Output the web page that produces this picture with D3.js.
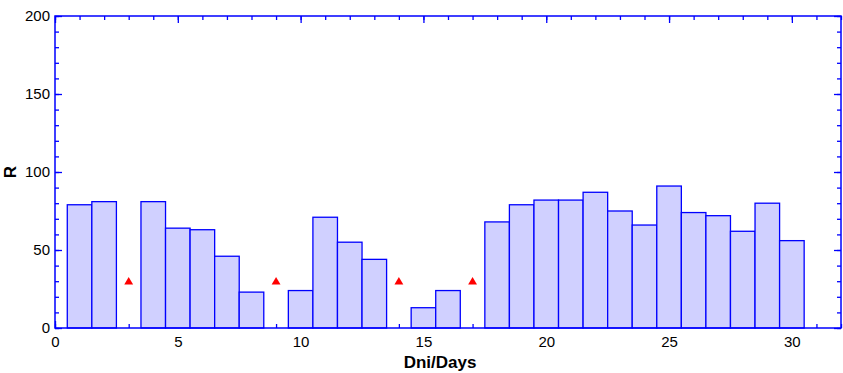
<!DOCTYPE html>
<html><head><meta charset="utf-8">
<script src="https://cdn.jsdelivr.net/npm/d3@7"></script>
<style>body{margin:0;background:#fff}svg{display:block}</style>
</head><body>
<svg id="c" width="843" height="373"></svg>
<script>
const days = [1,2,4,5,6,7,8,10,11,12,13,15,16,18,19,20,21,22,23,24,25,26,27,28,29,30];
const rValues = [79,81,81,64,63,46,23,24,71,55,44,13,24,68,79,82,82,87,75,66,91,74,72,62,80,56];
const missingDays = [3,9,14,17];
const missingLevel = [30,30,30,30];
const xMajorTicks = [0,5,10,15,20,25,30];
const yMajorTicks = [0,50,100,150,200];
const xLabel = "Dni/Days";
const yLabel = "R";

const W=843,H=373, L=55, R=841, T=16, B=328;
const blue="#0000ff";
const svg=d3.select("#c");
const x=d3.scaleLinear().domain([0,32]).range([L,R]);
const y=d3.scaleLinear().domain([0,200]).range([B,T]);
const font="'Liberation Sans', Arial, sans-serif";

function styleAxis(g){
  g.select(".domain").remove();
  g.selectAll("line").attr("stroke",blue).attr("stroke-width",1.3);
  g.selectAll("text").attr("font-family",font).attr("font-size",15).attr("fill","#000");
}
const xMinor=d3.range(0,33);
const yMinor=d3.range(0,201,10);
// minor ticks
svg.append("g").attr("transform",`translate(0,${B})`).call(d3.axisBottom(x).tickValues(xMinor).tickSize(-4).tickFormat("")).call(styleAxis);
svg.append("g").attr("transform",`translate(0,${T})`).call(d3.axisTop(x).tickValues(xMinor).tickSize(-4).tickFormat("")).call(styleAxis);
svg.append("g").attr("transform",`translate(${L},0)`).call(d3.axisLeft(y).tickValues(yMinor).tickSize(-4).tickFormat("")).call(styleAxis);
svg.append("g").attr("transform",`translate(${R},0)`).call(d3.axisRight(y).tickValues(yMinor).tickSize(-4).tickFormat("")).call(styleAxis);
// major ticks
svg.append("g").attr("transform",`translate(0,${B})`).call(d3.axisBottom(x).tickValues(xMajorTicks).tickSize(-7).tickPadding(8).tickFormat(d3.format("d"))).call(styleAxis);
svg.append("g").attr("transform",`translate(0,${T})`).call(d3.axisTop(x).tickValues(xMajorTicks).tickSize(-7).tickFormat("")).call(styleAxis);
svg.append("g").attr("transform",`translate(${L},0)`).call(d3.axisLeft(y).tickValues(yMajorTicks).tickSize(-7).tickPadding(5).tickFormat(d3.format("d"))).call(styleAxis);
svg.append("g").attr("transform",`translate(${R},0)`).call(d3.axisRight(y).tickValues(yMajorTicks).tickSize(-7).tickFormat("")).call(styleAxis);

// bars
svg.append("g").selectAll("rect").data(days).join("rect")
  .attr("x",(d)=>x(d-0.5)).attr("width",x(1)-x(0))
  .attr("y",(d,i)=>y(rValues[i])).attr("height",(d,i)=>y(0)-y(rValues[i]))
  .attr("fill","#d0d0ff").attr("stroke",blue).attr("stroke-width",1.3);

// missing markers
svg.append("g").selectAll("path").data(missingDays).join("path")
  .attr("d",d3.symbol(d3.symbolTriangle,34))
  .attr("transform",(d,i)=>`translate(${x(d)},${y(missingLevel[i])+0.8})`)
  .attr("fill","#ff0000");

// frame
svg.append("rect").attr("x",L).attr("y",T).attr("width",R-L).attr("height",B-T)
  .attr("fill","none").attr("stroke",blue).attr("stroke-width",1.5);

svg.append("text").attr("x",440).attr("y",368).attr("text-anchor","middle")
  .attr("font-family",font).attr("font-weight","bold").attr("font-size",17).text(xLabel);
svg.append("text").attr("transform",`translate(16,172) rotate(-90)`).attr("text-anchor","middle")
  .attr("font-family",font).attr("font-weight","bold").attr("font-size",17).text(yLabel);
</script>
</body></html>
